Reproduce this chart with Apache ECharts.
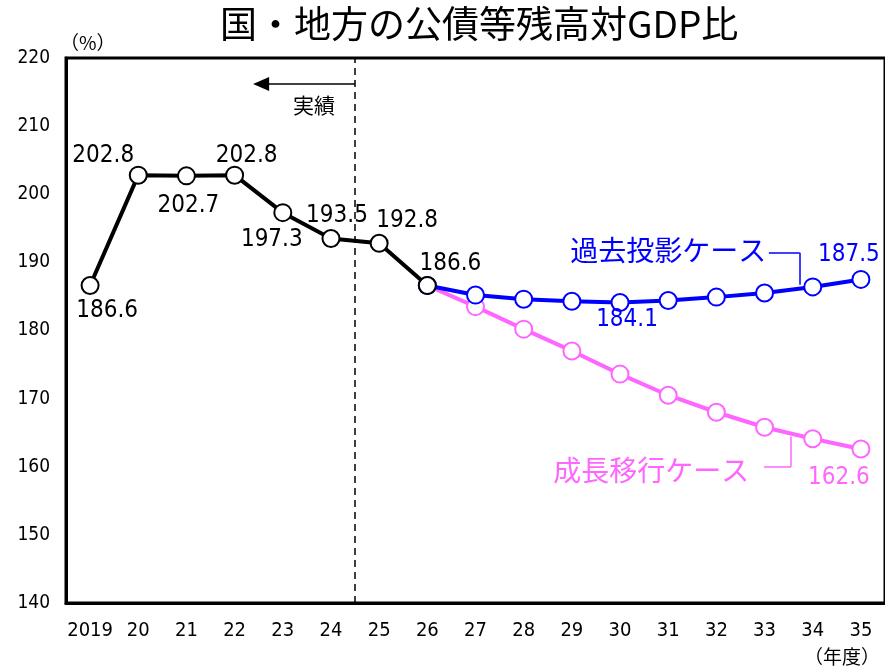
<!DOCTYPE html>
<html><head><meta charset="utf-8">
<script src="https://cdn.jsdelivr.net/npm/echarts@6/dist/echarts.min.js"></script>
<style>html,body{margin:0;padding:0;background:#fff}#c{width:885px;height:666px}</style>
</head><body><div id="c"></div>
<script>
const categories = ['2019','20','21','22','23','24','25','26','27','28','29','30','31','32','33','34','35'];
const actual = [186.6,202.8,202.7,202.8,197.3,193.5,192.8,186.6,null,null,null,null,null,null,null,null,null];
const pastCase = [null,null,null,null,null,null,null,186.6,185.2,184.6,184.3,184.1,184.4,184.9,185.5,186.4,187.5];
const growthCase = [null,null,null,null,null,null,null,186.6,183.5,180.2,177.0,173.6,170.5,168.0,165.8,164.1,162.6];
const yTicks = [140,150,160,170,180,190,200,210,220];

const NUM_FONT = "'Liberation Sans Narrow','DejaVu Sans Condensed','Noto Sans CJK JP',sans-serif";
const JP_FONT = "'Noto Sans CJK JP',sans-serif";

// label placement (offset from point)
const actualLabelOffsets = {0:[17,25],1:[-35,-19],2:[2,30],3:[12,-19],4:[-11,27],5:[6,-23],6:[28,-23],7:[23,-22]};
const pastLabelOffsets = {11:[7,17],16:[-12,-25]};
const growthLabelOffsets = {16:[-22,29]};

function build(values, offsets, color) {
  return values.map((v, i) => {
    if (v === null) return null;
    const o = offsets[i];
    const item = {value: v};
    if (o) item.label = {show: true, position: 'inside', offset: o, color: color,
      fontSize: 24, fontFamily: NUM_FONT, formatter: (p) => p.value.toFixed(1)};
    return item;
  });
}

const BLUE = '#0000ff', PINK = '#ff66ff';

const chart = echarts.init(document.getElementById('c'));
chart.setOption({
  animation: false,
  backgroundColor: '#fff',
  title: {text: '国・地方の公債等残高対GDP比', left: 215, top: 0,
    textStyle: {fontFamily: JP_FONT, fontSize: 37, fontWeight: 'normal', color: '#000'}},
  grid: {left: 66, right: -4, top: 58, bottom: 63, show: true, borderColor: '#000', borderWidth: 3},
  xAxis: [{
    type: 'category', data: categories, boundaryGap: true,
    axisLine: {lineStyle: {color: '#000', width: 3}}, axisTick: {show: false},
    axisLabel: {color: '#000', fontSize: 20, fontFamily: NUM_FONT, margin: 18, interval: 0}
  }, {
    type: 'value', min: 0, max: 17, show: false
  }],
  yAxis: {
    type: 'value', min: 140, max: 220, interval: 10,
    name: '（%）', nameLocation: 'end', nameGap: 6,
    nameTextStyle: {color: '#000', fontSize: 19, fontFamily: JP_FONT, align: 'left', padding: [0,0,0,-6]},
    axisLine: {show: true, lineStyle: {color: '#000', width: 3}}, axisTick: {show: false},
    splitLine: {show: false},
    axisLabel: {color: '#000', fontSize: 19, fontFamily: NUM_FONT, margin: 16}
  },
  series: [
    {
      type: 'line', name: '成長移行ケース', data: build(growthCase, growthLabelOffsets, PINK),
      symbol: 'circle', symbolSize: 17, z: 2,
      lineStyle: {color: PINK, width: 4}, itemStyle: {color: '#fff', borderColor: PINK, borderWidth: 2}
    },
    {
      type: 'line', name: '過去投影ケース', data: build(pastCase, pastLabelOffsets, BLUE),
      symbol: 'circle', symbolSize: 17, z: 3,
      lineStyle: {color: BLUE, width: 4}, itemStyle: {color: '#fff', borderColor: BLUE, borderWidth: 2}
    },
    {
      type: 'line', name: '実績', data: build(actual, actualLabelOffsets, '#000'),
      symbol: 'circle', symbolSize: 17, z: 4,
      lineStyle: {color: '#000', width: 4}, itemStyle: {color: '#fff', borderColor: '#000', borderWidth: 2}
    },
    {
      type: 'line', xAxisIndex: 1, data: [], silent: true,
      markLine: {
        silent: true, symbol: 'none', label: {show: false}, animation: false,
        data: [
          [{coord: [6, 140], lineStyle: {color: '#000', width: 1.5, type: [7,5]}}, {coord: [6, 220]}],
          [{coord: [6, 216.2], symbol: 'none', lineStyle: {color: '#000', width: 1.5, type: 'solid'}},
           {coord: [4.05, 216.2], symbol: 'triangle', symbolSize: [14, 16], symbolRotate: 90}],
          [{coord: [14.59, 191.4], lineStyle: {color: BLUE, width: 1.5, type: 'solid'}}, {coord: [15.23, 191.4]}],
          [{coord: [15.23, 191.4], lineStyle: {color: BLUE, width: 1.5, type: 'solid'}}, {coord: [15.23, 186.7]}],
          [{coord: [14.49, 160.0], lineStyle: {color: PINK, width: 1.5, type: 'solid'}}, {coord: [15.05, 160.0]}],
          [{coord: [15.05, 160.0], lineStyle: {color: PINK, width: 1.5, type: 'solid'}}, {coord: [15.05, 164.4]}]
        ]
      },
      markPoint: {
        silent: true, symbol: 'circle', symbolSize: 0, animation: false,
        data: [
          {coord: [5.15, 213.1], label: {show: true, formatter: '実績', color: '#000', fontSize: 21, fontFamily: JP_FONT}},
          {coord: [12.5, 191.7], label: {show: true, formatter: '過去投影ケース', color: BLUE, fontSize: 28, fontFamily: JP_FONT}},
          {coord: [12.15, 159.5], label: {show: true, formatter: '成長移行ケース', color: PINK, fontSize: 28, fontFamily: JP_FONT}}
        ]
      }
    }
  ],
  graphic: [{type: 'text', right: 5, bottom: 0,
    style: {text: '（年度）', fontSize: 19, fontFamily: JP_FONT, fill: '#000'}}]
});
</script>
</body></html>
